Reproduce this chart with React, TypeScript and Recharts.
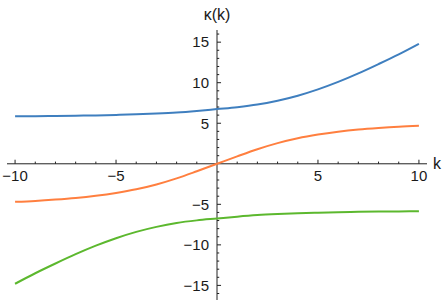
import { LineChart, Line, XAxis, YAxis, ReferenceLine, ReferenceDot } from "recharts"

const ks = [-10, -9, -8, -7, -6, -5, -4, -3, -2, -1, 0, 1, 2, 3, 4, 5, 6, 7, 8, 9, 10]
const upper = [5.85, 5.87, 5.9, 5.93, 5.97, 6.03, 6.1, 6.2, 6.33, 6.52, 6.75, 6.98, 7.3, 7.78, 8.4, 9.18, 10.1, 11.15, 12.3, 13.5, 14.8]
const middle = [-4.69, -4.58, -4.42, -4.22, -3.95, -3.6, -3.15, -2.55, -1.8, -0.92, 0, 0.92, 1.8, 2.55, 3.15, 3.6, 3.95, 4.22, 4.42, 4.58, 4.69]
const lower = [-14.8, -13.5, -12.3, -11.15, -10.1, -9.18, -8.4, -7.78, -7.3, -6.98, -6.75, -6.52, -6.33, -6.2, -6.1, -6.03, -5.97, -5.93, -5.9, -5.87, -5.85]

const xMajor = [-10, -5, 5, 10]
const xMinor = [-9, -8, -7, -6, -4, -3, -2, -1, 1, 2, 3, 4, 6, 7, 8, 9]
const yMajor = [-15, -10, -5, 5, 10, 15]
const yMinor = [-16, -14, -13, -12, -11, -9, -8, -7, -6, -4, -3, -2, -1, 1, 2, 3, 4, 6, 7, 8, 9, 11, 12, 13, 14, 16]

const data = ks.map((k, i) => ({ k, a: upper[i], b: middle[i], c: lower[i] }))

const fmt = (t: number) => (t < 0 ? `\u2212${-t}` : `${t}`)
const axisColor = "#222"
const font = { fontFamily: "Liberation Sans, Arial, sans-serif", fontSize: 15, fill: "#1a1a1a" }

export default function App() {
  return (
    <div style={{ position: "absolute", left: 0, top: 0 }}>
      <LineChart width={447} height={300} data={data} margin={{ top: 30, right: 20, bottom: 0, left: 7 }}>
        <XAxis dataKey="k" type="number" domain={[-10.4, 10.4]} hide />
        <YAxis type="number" domain={[-16.8, 16.5]} hide />
        <ReferenceLine
          y={0}
          stroke={axisColor}
          strokeWidth={1}
          label={{ value: "k", position: "right", offset: 6, ...font, fontSize: 16 }}
        />
        <ReferenceLine
          x={0}
          stroke={axisColor}
          strokeWidth={1}
          label={{ value: "\u03ba(k)", position: "top", offset: 10, ...font, fontSize: 16 }}
        />
        {xMajor.map((t) => (
          <ReferenceLine key={`xM${t}`} segment={[{ x: t, y: 0 }, { x: t, y: 0.5 }]} stroke={axisColor} />
        ))}
        {xMinor.map((t) => (
          <ReferenceLine key={`xm${t}`} segment={[{ x: t, y: 0 }, { x: t, y: 0.27 }]} stroke={axisColor} />
        ))}
        {yMajor.map((t) => (
          <ReferenceLine key={`yM${t}`} segment={[{ x: 0, y: t }, { x: 0.2, y: t }]} stroke={axisColor} />
        ))}
        {yMinor.map((t) => (
          <ReferenceLine key={`ym${t}`} segment={[{ x: 0, y: t }, { x: 0.11, y: t }]} stroke={axisColor} />
        ))}
        {xMajor.map((t) => (
          <ReferenceDot
            key={`xl${t}`}
            x={t}
            y={0}
            r={0}
            fill="none"
            stroke="none"
            label={{ value: fmt(t), position: "bottom", offset: 7, ...font }}
          />
        ))}
        {yMajor.map((t) => (
          <ReferenceDot
            key={`yl${t}`}
            x={0}
            y={t}
            r={0}
            fill="none"
            stroke="none"
            label={{ value: fmt(t), position: "left", offset: 8, ...font }}
          />
        ))}
        <Line dataKey="a" type="monotone" stroke="#3F7FBF" strokeWidth={2} dot={false} isAnimationActive={false} />
        <Line dataKey="b" type="monotone" stroke="#FF7F3F" strokeWidth={2} dot={false} isAnimationActive={false} />
        <Line dataKey="c" type="monotone" stroke="#5CB82E" strokeWidth={2} dot={false} isAnimationActive={false} />
      </LineChart>
    </div>
  )
}
